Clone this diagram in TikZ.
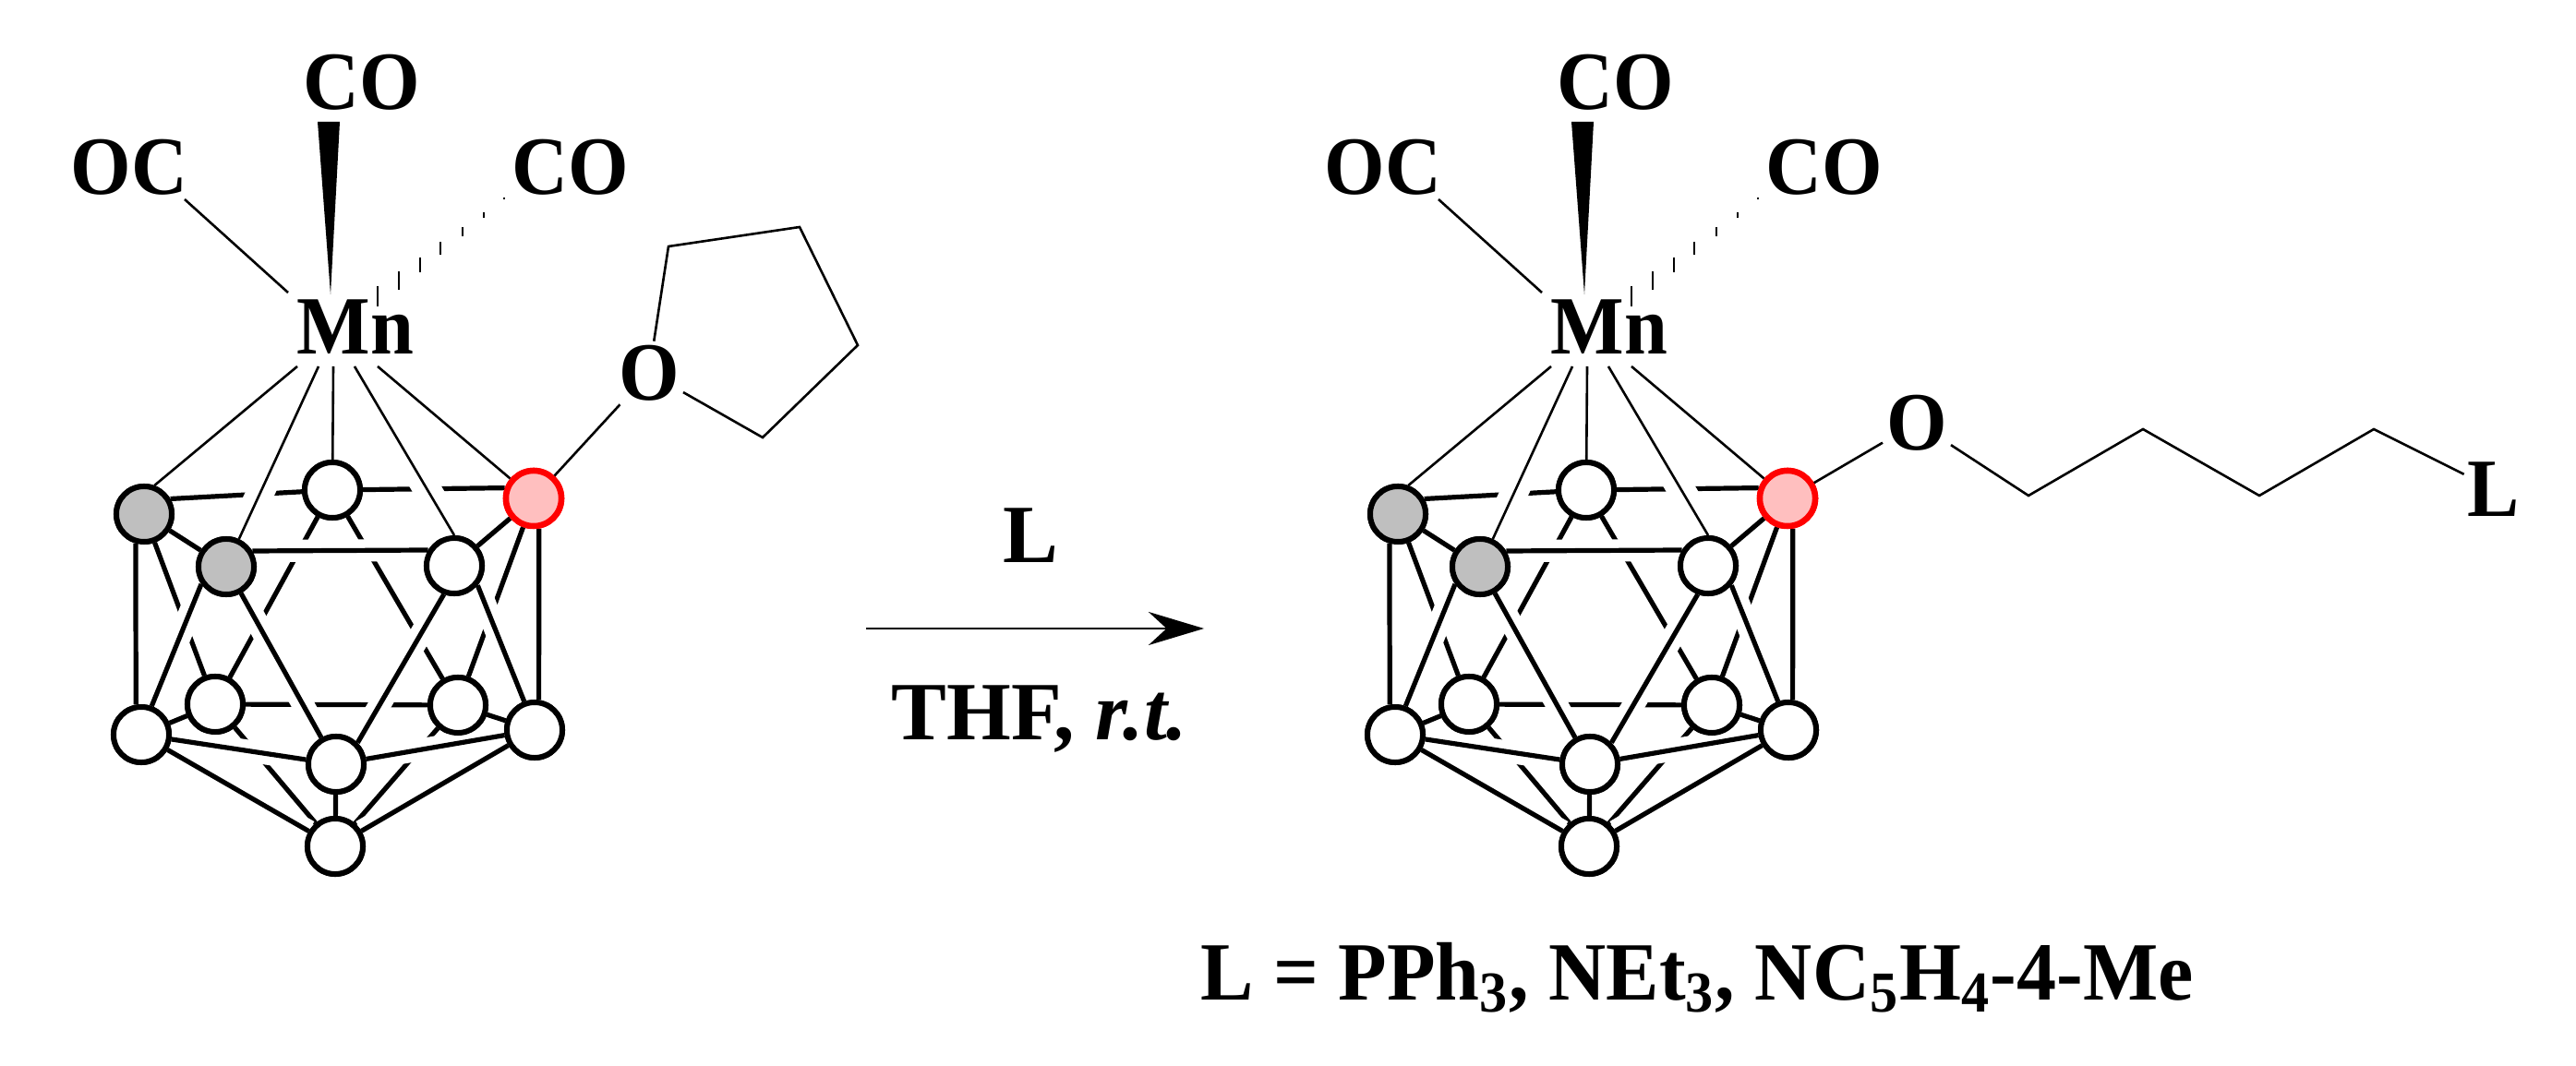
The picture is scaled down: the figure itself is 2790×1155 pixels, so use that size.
\documentclass[tikz,border=0pt]{standalone}
\usepackage{fontspec}
\setmainfont{Liberation Serif}
\newfontfamily\narrowfont[FakeStretch=.94]{Liberation Serif}
\newfontfamily\notefont[FakeStretch=.96]{Liberation Serif}
\usetikzlibrary{arrows.meta}
\tikzset{
	atomw/.style={circle,draw,fill=white,line width=.06cm,minimum size=.6cm,inner sep=0pt},
	atomg/.style={atomw,fill=black!25},
	atomr/.style={atomw,draw=red,fill=red!25,line width=.065cm},
	lab/.style={inner sep=1pt},
	chem/.style={lab,font=\narrowfont\bfseries\fontsize{25.5}{30}\selectfont},
	halo/.style={draw=white,line width=.24cm},
	front/.style={draw=black,line width=.052cm},
	thin bond/.style={draw=black,line width=.026cm},
	thin halo/.style={draw=white,line width=.3cm},
	cage/.pic={
		% ligands
		\node[chem] (co1) at (392,89) {CO};
		\node[chem] (oc) at (140,181) {OC};
		\node[chem] (co2) at (618,181) {CO};
		\node[chem] (mn) at (385,354) {Mn};
		\fill (344,132) -- (368,132) -- (358,319) -- cycle;
		\draw[thin bond] (200,216) -- (312,317);
		\foreach \x/\y/\h in {409/321/11.3,432/304/10,455/287/8.3,477/269/7,501/251/5,524/233/3.3,546/215/1.3}
			\draw[thin bond] (\x,\y-\h) -- (\x,\y+\h);
		% cage vertices
		\node[atomg] (g1) at (156,557) {};
		\node[atomg] (g2) at (245,614) {};
		\node[atomw] (t) at (360,531) {};
		\node[atomr] (red) at (578,540) {};
		\node[atomw] (rm) at (492,613) {};
		\node[atomw] (l) at (153,796) {};
		\node[atomw] (il) at (233,763) {};
		\node[atomw] (ir) at (496,764) {};
		\node[atomw] (r) at (579,791) {};
		\node[atomw] (bm) at (364,828) {};
		\node[atomw] (b) at (363,917) {};
		% back edges
		\foreach \a/\b in {g1.30/t,t/red.160,g1/il,red/ir,t/il,t/ir,il/ir,il/l,ir/r,il/b,ir/b}
			\draw[front] (\a) -- (\b);
		% Mn to cage
		\coordinate (m1) at (322,397);
		\coordinate (m2) at (345,397);
		\coordinate (m3) at (361,397);
		\coordinate (m4) at (384,397);
		\coordinate (m5) at (409,397);
		\draw[thin halo] (m2) -- (g2);
		\draw[thin halo] (m4) -- (rm.north);
		\draw[thin bond] (m1) -- (g1.70);
		\draw[thin bond] (m2) -- (g2);
		\draw[thin bond] (m3) -- (t);
		\draw[thin bond] (m4) -- (rm.north);
		\draw[thin bond] (m5) -- (red);
		% front edges
		\foreach \sty in {halo,front}
			\foreach \a/\b in {g1/g2,g2.31/rm.149,rm/red,g1.254/l.100,g2.215/l.70,g2/bm,rm.250/bm.45,rm.-40/r.110,red.280/r.82,l/bm,r/bm,l/b,r/b,bm/b}
				\draw[\sty] (\a) -- (\b);
		% redraw vertices over the edges
		\node[atomg] at (g1) {};
		\node[atomg] at (g2) {};
		\node[atomw] at (t) {};
		\node[atomr] at (red) {};
		\node[atomw] at (rm) {};
		\node[atomw] at (l) {};
		\node[atomw] at (il) {};
		\node[atomw] at (ir) {};
		\node[atomw] at (r) {};
		\node[atomw] at (bm) {};
		\node[atomw] at (b) {};
	}
}
\begin{document}
\begin{tikzpicture}[x=.01cm,y=-.01cm,font=\bfseries\fontsize{25.5}{30}\selectfont]
	\useasboundingbox (0,0) rectangle (2790,1155);
	\pic (a) at (0,0) {cage};
	\pic (c) at (1358,0) {cage};
	% thf
	\node[chem] (o1) at (703,404) {O};
	\coordinate (t1) at (724,267);
	\coordinate (t2) at (866,246);
	\coordinate (t3) at (929,374);
	\coordinate (t4) at (826,474);
	\draw[thin bond] (o1) -- (t1) -- (t2) -- (t3) -- (t4) -- (o1);
	\draw[thin bond] (ared) -- (o1);
	% chain
	\node[chem] (o2) at (2076,458) {O};
	\node[chem] (ligand) at (2701,530) {L};
	\coordinate (c1) at (2197,537);
	\coordinate (c2) at (2321,465);
	\coordinate (c3) at (2447,537);
	\coordinate (c4) at (2571,465);
	\draw[thin bond] (o2) -- (c1) -- (c2) -- (c3) -- (c4) -- (ligand);
	\draw[thin bond] (cred) -- (o2);
	% reaction arrow
	\coordinate (start) at (938,681);
	\coordinate (end) at (1304,681);
	\draw[thin bond,-{Stealth[length=.6cm,width=.36cm]}] (start) -- (end);
	\node[lab] (above) at (1116,580) {L};
	\node[lab] (below) at (1126,779) {THF, \textit{r.t.}};
	\node[lab,font=\notefont\bfseries\fontsize{25.5}{30}\selectfont] (note) at (1838,1059) {L = PPh\textsubscript{3}, NEt\textsubscript{3}, NC\textsubscript{5}H\textsubscript{4}-4-Me};
\end{tikzpicture}
\end{document}
